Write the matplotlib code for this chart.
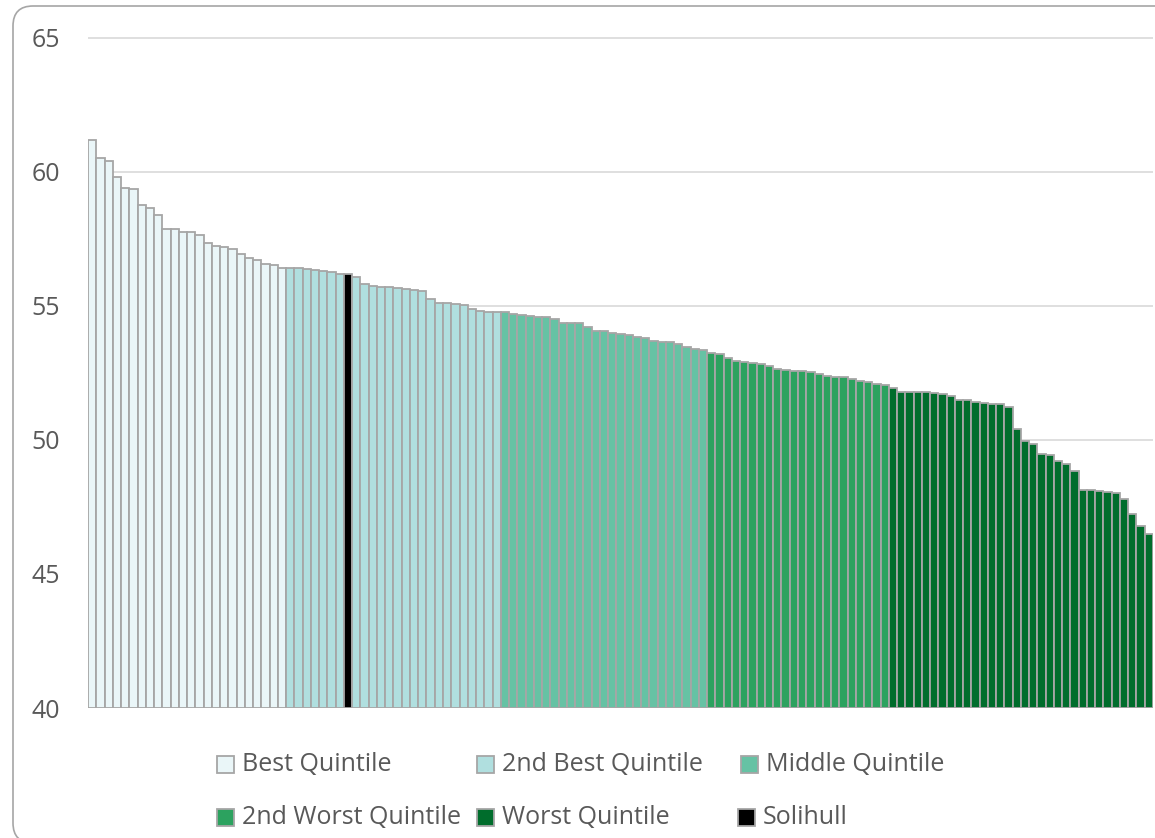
import matplotlib
matplotlib.use("Agg")
import matplotlib.pyplot as plt
from matplotlib.patches import FancyBboxPatch, Rectangle

plt.rcParams['font.family'] = ['Open Sans', 'DejaVu Sans']

# Values, grouped by quintile (descending)
best = [61.18, 60.52, 60.40, 59.79, 59.38, 59.34, 58.77, 58.63, 58.38, 57.85,
        57.85, 57.76, 57.74, 57.62, 57.34, 57.24, 57.19, 57.10, 56.92, 56.77,
        56.69, 56.55, 56.53, 56.42]
second_best = [56.41, 56.41, 56.38, 56.34, 56.29, 56.26, 56.19, 56.07, 55.82,
               55.72, 55.71, 55.70, 55.67, 55.62, 55.58, 55.56, 55.25, 55.10,
               55.09, 55.08, 55.04, 54.89, 54.80, 54.78, 54.76]
middle = [54.75, 54.69, 54.65, 54.63, 54.58, 54.58, 54.50, 54.35, 54.34, 54.34,
          54.20, 54.07, 54.07, 54.00, 53.94, 53.90, 53.85, 53.78, 53.69, 53.64,
          53.63, 53.57, 53.47, 53.40, 53.36]
second_worst = [53.23, 53.21, 53.05, 52.95, 52.89, 52.85, 52.84, 52.74, 52.64,
                52.61, 52.57, 52.56, 52.54, 52.45, 52.39, 52.35, 52.33, 52.28,
                52.18, 52.14, 52.09, 52.03]
worst = [51.93, 51.80, 51.78, 51.77, 51.77, 51.75, 51.69, 51.64, 51.49, 51.48,
         51.42, 51.37, 51.35, 51.34, 51.23, 50.42, 49.96, 49.83, 49.47, 49.44,
         49.22, 49.10, 48.82, 48.13, 48.12, 48.08, 48.06, 48.00, 47.78, 47.25,
         46.79, 46.50]
solihull = 56.17

labels = ['Best Quintile', '2nd Best Quintile', 'Middle Quintile',
          '2nd Worst Quintile', 'Worst Quintile', 'Solihull']
colors = ['#EAF6F8', '#B0DFDF', '#66C2A4', '#2CA25F', '#006D2C', '#000000']

groups = [best, second_best, middle, second_worst, worst, [solihull]]
bars = []
for g, vals in enumerate(groups):
    for v in vals:
        bars.append((v, g))
bars.sort(key=lambda b: -b[0])
values = [b[0] for b in bars]
bar_colors = [colors[b[1]] for b in bars]

fig = plt.figure(figsize=(11.55, 8.38), dpi=100)
ax = fig.add_axes([88 / 1155, 1 - 708 / 838, (1153 - 88) / 1155, (708 - 37.5) / 838])

x = range(len(values))
ax.bar(x, [v - 40 for v in values], bottom=40, width=1.0, color=bar_colors,
       edgecolor='#A6A6A6', linewidth=1.3, zorder=2)

ax.set_xlim(-0.5, len(values) - 0.5)
ax.set_ylim(40, 65)
ax.set_yticks([40, 45, 50, 55, 60, 65])
ax.yaxis.grid(True, color='#D9D9D9', linewidth=1.2)
ax.set_axisbelow(True)
ax.set_xticks([])
ax.tick_params(axis='y', length=0, pad=20, labelsize=18, labelcolor='#595959')
for s in ax.spines.values():
    s.set_visible(False)

# Legend drawn by hand (two rows of three)
legend_pos = [(217, 764), (477, 764), (741, 764),
              (217, 817), (477, 817), (738, 817)]
for (px, py), lab, col in zip(legend_pos, labels, colors):
    fig.patches.append(Rectangle((px / 1155, 1 - (py + 8.5) / 838), 17 / 1155, 17 / 838,
                                 transform=fig.transFigure, facecolor=col,
                                 edgecolor='#A6A6A6', linewidth=1.3))
    fig.text((px + 25) / 1155, 1 - py / 838, lab, fontsize=18, color='#595959',
             va='center', ha='left')

# Chart area border
fig.patches.append(FancyBboxPatch((13, -5), 1200, 837, boxstyle='round,pad=0,rounding_size=20',
                                  transform=None, facecolor='none',
                                  edgecolor='#A6A6A6', linewidth=1.2))

fig.savefig('out.png', dpi=100, facecolor='white')
